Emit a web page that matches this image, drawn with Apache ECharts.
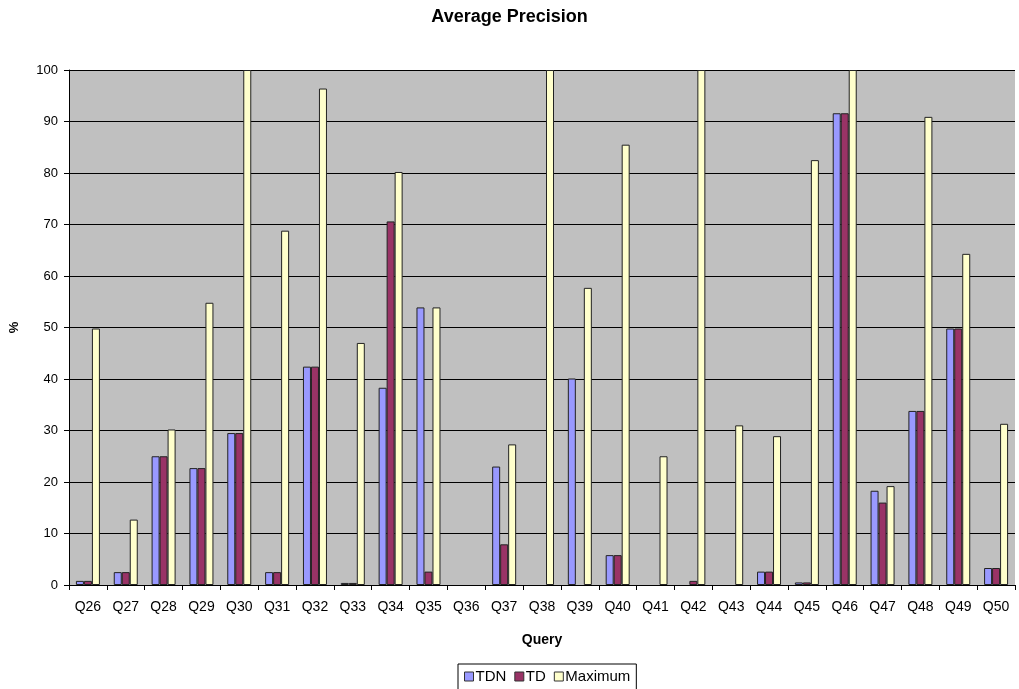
<!DOCTYPE html>
<html><head><meta charset="utf-8">
<script src="https://cdn.jsdelivr.net/npm/echarts@6/dist/echarts.min.js"></script>
<style>html,body{margin:0;padding:0;background:#fff}#c{width:1019px;height:689px}</style>
</head><body><div id="c"></div>
<script>
const categories = ['Q26','Q27','Q28','Q29','Q30','Q31','Q32','Q33','Q34','Q35','Q36','Q37','Q38','Q39','Q40','Q41','Q42','Q43','Q44','Q45','Q46','Q47','Q48','Q49','Q50'];
const tdn = [0.8,2.5,25,22.7,29.5,2.5,42.4,0.4,38.3,53.9,0,23,0,40.1,5.8,0,0,0,2.6,0.5,91.6,18.3,33.8,49.8,3.3];
const td  = [0.8,2.5,25,22.7,29.5,2.5,42.4,0.4,70.6,2.6,0,7.9,0,0,5.8,0,0.8,0,2.6,0.5,91.6,16,33.8,49.8,3.3];
const maximum = [49.8,12.7,30.2,54.8,100,68.8,96.4,47,80.2,53.9,0,27.3,100,57.7,85.5,25,100,31,28.9,82.5,100,19.2,90.9,64.3,31.3];
const yTicks = [0,10,20,30,40,50,60,70,80,90,100];

const chart = echarts.init(document.getElementById('c'), null, {renderer:'canvas'});
const font = 'Liberation Sans, Arial, sans-serif';
const barStyle = c => ({color:c, borderColor:'#222', borderWidth:1});
// zero values drawn without an outline (invisible, as in the reference)
const toItems = arr => arr.map(v => v === 0 ? {value:0, itemStyle:{borderWidth:0}} : v);
chart.setOption({
  animation:false,
  textStyle:{fontFamily:font},
  title:{text:'Average Precision', left:'center', top:3,
    textStyle:{fontFamily:font, fontSize:18, fontWeight:'bold', color:'#000'}},
  grid:{left:68, right:4, top:70, bottom:104, show:true, backgroundColor:'#C0C0C0', borderWidth:0},
  legend:{top:664, left:458, itemWidth:9, itemHeight:9, itemGap:8, icon:'rect',
    borderColor:'#000', borderWidth:1, padding:[5,6,8,6], backgroundColor:'#fff',
    itemStyle:{borderColor:'#333', borderWidth:1},
    textStyle:{fontFamily:font, fontSize:15, color:'#000', padding:[0,0,0,-3]},
    data:['TDN','TD','Maximum']},
  xAxis:{type:'category', data:categories, name:'Query', nameLocation:'middle', nameGap:48,
    nameTextStyle:{fontFamily:font, fontSize:14, fontWeight:'bold', color:'#000'},
    axisLine:{lineStyle:{color:'#000', width:1}},
    axisTick:{show:true, length:5, lineStyle:{color:'#000'}},
    axisLabel:{fontFamily:font, fontSize:14, color:'#000', margin:15, interval:0}},
  yAxis:{type:'value', min:0, max:100, interval:10, name:'%', nameLocation:'middle', nameGap:48,
    nameTextStyle:{fontFamily:font, fontSize:13, fontWeight:'bold', color:'#000'},
    axisLine:{show:true, lineStyle:{color:'#000', width:1}},
    axisTick:{show:true, length:5, lineStyle:{color:'#000'}},
    axisLabel:{fontFamily:font, fontSize:13, color:'#000', margin:11,
      formatter: v => yTicks.includes(v) ? String(v) : ''},
    splitLine:{show:true, lineStyle:{color:'#000', width:1}}},
  series:[
    {name:'TDN', type:'bar', data:toItems(tdn), barWidth:8, barGap:'0%', itemStyle:barStyle('#9999FF')},
    {name:'TD', type:'bar', data:toItems(td), barWidth:8, barGap:'0%', itemStyle:barStyle('#993366')},
    {name:'Maximum', type:'bar', data:toItems(maximum), barWidth:8, barGap:'0%', itemStyle:barStyle('#FFFFCC')}
  ]
});
</script></body></html>
